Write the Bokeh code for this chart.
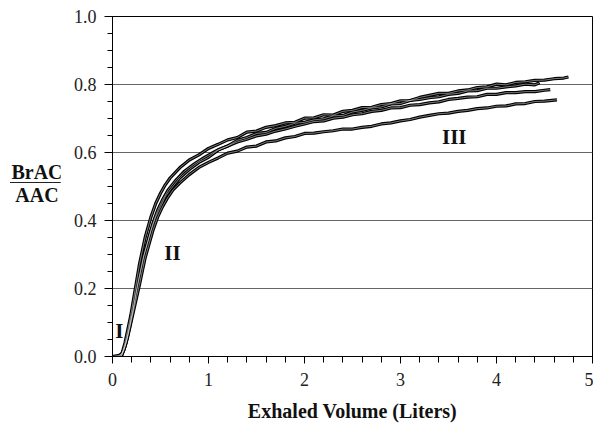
from bokeh.plotting import figure
from bokeh.models import Range1d, SingleIntervalTicker, Label, Div, CustomJSTickFormatter
from bokeh.layouts import row
from bokeh.embed import file_html
from bokeh.resources import INLINE

# ---- data ----
c1_x = [0, 0.03, 0.06, 0.1, 0.13, 0.16, 0.19, 0.22, 0.25, 0.28, 0.31, 0.34, 0.37, 0.4, 0.45, 0.5,
        0.55, 0.6, 0.7, 0.8, 0.9, 1.0, 1.1, 1.2, 1.3, 1.4, 1.5, 1.6, 1.7, 1.8, 1.9, 2.0, 2.1, 2.2,
        2.3, 2.4, 2.5, 2.6, 2.7, 2.8, 2.9, 3.0, 3.1, 3.2, 3.3, 3.4, 3.5, 3.6, 3.7, 3.8, 3.9, 4.0,
        4.1, 4.2, 4.3, 4.4, 4.5, 4.6, 4.7, 4.75]
c1_y = [0, 0, 0.0, 0.01, 0.04, 0.08, 0.12, 0.17, 0.22, 0.27, 0.31, 0.35, 0.38, 0.41, 0.45, 0.48,
        0.505, 0.525, 0.555, 0.578, 0.593, 0.612, 0.624, 0.637, 0.644, 0.66, 0.663, 0.674, 0.679,
        0.687, 0.689, 0.701, 0.702, 0.711, 0.71, 0.721, 0.724, 0.732, 0.733, 0.741, 0.744, 0.752,
        0.753, 0.762, 0.768, 0.774, 0.774, 0.781, 0.784, 0.791, 0.793, 0.801, 0.799, 0.806, 0.808,
        0.812, 0.813, 0.817, 0.819, 0.822]

c2_x = [0, 0.08, 0.12, 0.15, 0.18, 0.21, 0.24, 0.27, 0.3, 0.33, 0.36, 0.4, 0.45, 0.5, 0.55, 0.6,
        0.7, 0.8, 0.9, 1.0, 1.1, 1.2, 1.3, 1.4, 1.5, 1.6, 1.7, 1.8, 1.9, 2.0, 2.1, 2.2, 2.3, 2.4,
        2.5, 2.6, 2.7, 2.8, 2.9, 3.0, 3.1, 3.2, 3.3, 3.4, 3.5, 3.6, 3.7, 3.8, 3.9, 4.0, 4.1, 4.2,
        4.3, 4.4, 4.45]
c2_y = [0, 0.0, 0.02, 0.05, 0.09, 0.13, 0.18, 0.22, 0.26, 0.3, 0.33, 0.37, 0.41, 0.44, 0.47, 0.49,
        0.525, 0.55, 0.571, 0.586, 0.607, 0.619, 0.636, 0.644, 0.656, 0.659, 0.671, 0.677, 0.686,
        0.689, 0.696, 0.699, 0.708, 0.709, 0.719, 0.724, 0.731, 0.734, 0.743, 0.744, 0.753, 0.756,
        0.761, 0.764, 0.771, 0.774, 0.781, 0.782, 0.789, 0.789, 0.793, 0.796, 0.801, 0.799, 0.805]

c3_x = [0, 0.1, 0.14, 0.17, 0.2, 0.23, 0.26, 0.29, 0.32, 0.35, 0.38, 0.42, 0.47, 0.52, 0.58, 0.65,
        0.75, 0.85, 0.95, 1.05, 1.1, 1.2, 1.3, 1.4, 1.5, 1.6, 1.7, 1.8, 1.9, 2.0, 2.1, 2.2, 2.3,
        2.4, 2.5, 2.6, 2.7, 2.8, 2.9, 3.0, 3.1, 3.2, 3.3, 3.4, 3.5, 3.6, 3.7, 3.8, 3.9, 4.0, 4.1,
        4.2, 4.3, 4.4, 4.5, 4.56]
c3_y = [0, 0.005, 0.04, 0.08, 0.12, 0.16, 0.21, 0.25, 0.29, 0.32, 0.35, 0.39, 0.43, 0.46, 0.49,
        0.515, 0.545, 0.566, 0.584, 0.6, 0.608, 0.619, 0.631, 0.639, 0.649, 0.654, 0.663, 0.669,
        0.677, 0.684, 0.691, 0.693, 0.701, 0.704, 0.711, 0.714, 0.721, 0.724, 0.731, 0.732, 0.739,
        0.741, 0.746, 0.749, 0.756, 0.759, 0.763, 0.764, 0.771, 0.771, 0.776, 0.776, 0.779, 0.779,
        0.783, 0.785]

c4_x = [0, 0.09, 0.13, 0.16, 0.2, 0.24, 0.28, 0.31, 0.34, 0.38, 0.42, 0.47, 0.52, 0.57, 0.63, 0.7,
        0.8, 0.9, 1.0, 1.1, 1.2, 1.3, 1.4, 1.5, 1.6, 1.7, 1.8, 1.9, 2.0, 2.1, 2.2, 2.3, 2.4, 2.5,
        2.6, 2.7, 2.8, 2.9, 3.0, 3.1, 3.2, 3.3, 3.4, 3.5, 3.6, 3.7, 3.8, 3.9, 4.0, 4.1, 4.2, 4.3,
        4.4, 4.5, 4.63]
c4_y = [0, 0.0, 0.03, 0.06, 0.11, 0.16, 0.21, 0.25, 0.29, 0.33, 0.37, 0.41, 0.44, 0.465, 0.49,
        0.51, 0.535, 0.556, 0.571, 0.584, 0.598, 0.604, 0.616, 0.619, 0.631, 0.634, 0.643, 0.647,
        0.656, 0.657, 0.661, 0.664, 0.669, 0.669, 0.674, 0.677, 0.684, 0.687, 0.693, 0.697, 0.704,
        0.709, 0.714, 0.716, 0.721, 0.724, 0.729, 0.731, 0.736, 0.737, 0.743, 0.744, 0.75, 0.751,
        0.755]

curves = [(c1_x, c1_y), (c2_x, c2_y), (c3_x, c3_y), (c4_x, c4_y)]

phase_labels = ["I", "II", "III"]
phase_x = [0.07, 0.625, 3.56]
phase_y = [0.076, 0.305, 0.645]

x_label = "Exhaled Volume (Liters)"
y_num = "BrAC"
y_den = "AAC"

SERIF = "Liberation Serif"

p = figure(width=533, height=426, output_backend="svg", toolbar_location=None,
           x_range=Range1d(0, 5), y_range=Range1d(0, 1.0),
           min_border_left=52, min_border_right=1, min_border_top=16, min_border_bottom=70)

p.outline_line_color = "black"
p.outline_line_width = 1
p.background_fill_color = "white"
p.border_fill_color = "white"

p.xgrid.visible = False
p.ygrid.grid_line_color = "#666666"
p.ygrid.grid_line_width = 1
p.ygrid.ticker = SingleIntervalTicker(interval=0.2)

p.xaxis.ticker = SingleIntervalTicker(interval=1, num_minor_ticks=5)
p.yaxis.ticker = SingleIntervalTicker(interval=0.2, num_minor_ticks=4)
p.yaxis.formatter = CustomJSTickFormatter(code="return tick.toFixed(1);")
p.xaxis.formatter = CustomJSTickFormatter(code="return tick.toFixed(0);")

for ax in (p.xaxis, p.yaxis):
    ax.axis_line_color = "black"
    ax.major_tick_line_color = "black"
    ax.minor_tick_line_color = "black"
    ax.major_tick_in = 0
    ax.minor_tick_in = 0
    ax.major_label_text_font = SERIF
    ax.major_label_text_font_size = "18px"
    ax.major_label_text_color = "#222222"

p.yaxis.major_tick_out = 8
p.yaxis.minor_tick_out = 5
p.yaxis.major_label_standoff = 8
p.xaxis.major_tick_out = 7
p.xaxis.minor_tick_out = 6
p.xaxis.major_label_standoff = 9

p.xaxis.axis_label = x_label
p.xaxis.axis_label_text_font = SERIF
p.xaxis.axis_label_text_font_style = "bold"
p.xaxis.axis_label_text_font_size = "20px"
p.xaxis.axis_label_text_color = "#111111"
p.xaxis.axis_label_standoff = 11

for cx, cy in curves:
    p.line(cx, cy, line_color="black", line_width=3.2, line_join="round")
for cx, cy in curves:
    p.line(cx, cy, line_color="white", line_width=0.8, line_alpha=0.6)

for t, lx, ly in zip(phase_labels, phase_x, phase_y):
    p.add_layout(Label(x=lx, y=ly, text=t, text_font=SERIF, text_font_style="bold",
                       text_font_size="21px", text_align="center", text_baseline="middle",
                       text_color="#111111"))

ylab_html = (
    '<div style="position:relative;width:60px;height:420px;font-family:\'Liberation Serif\';'
    'font-weight:bold;font-size:20px;color:#111;">'
    '<div style="position:absolute;left:10px;top:161px;width:54px;text-align:center;line-height:22px;">'
    + y_num + '</div>'
    '<div style="position:absolute;left:10px;top:182px;width:54px;height:0;border-top:1.5px solid #222;"></div>'
    '<div style="position:absolute;left:10px;top:184px;width:54px;text-align:center;line-height:22px;">'
    + y_den + '</div></div>'
)
ylab = Div(text=ylab_html, width=60, height=420, margin=(0, 0, 0, 0))

layout = row(ylab, p, spacing=0)

open("out.html", "w").write(file_html(layout, INLINE))
